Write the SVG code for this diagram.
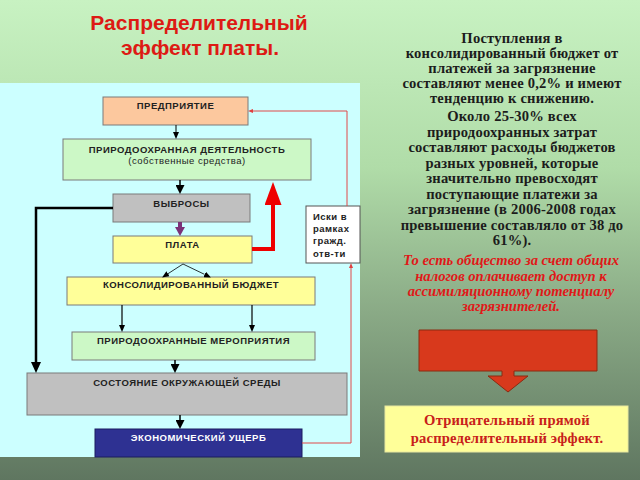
<svg xmlns="http://www.w3.org/2000/svg" width="640" height="480" viewBox="0 0 640 480">
<defs>
<linearGradient id="bg" x1="0" y1="0" x2="0" y2="1">
<stop offset="0" stop-color="#c8f2c2"/>
<stop offset="0.35" stop-color="#b0dca8"/>
<stop offset="0.65" stop-color="#8aaa86"/>
<stop offset="1" stop-color="#5f7660"/>
</linearGradient>
<marker id="a-sm" markerUnits="userSpaceOnUse" viewBox="0 0 7 6" markerWidth="7" markerHeight="6" refX="0" refY="3" orient="auto"><path d="M0,0 L7,3 L0,6 Z" fill="#000"/></marker>
<marker id="a-md" markerUnits="userSpaceOnUse" viewBox="0 0 9 9" markerWidth="9" markerHeight="9" refX="0" refY="4.5" orient="auto"><path d="M0,0 L9,4.5 L0,9 Z" fill="#000"/></marker>
<marker id="a-lg" markerUnits="userSpaceOnUse" viewBox="0 0 11 10" markerWidth="11" markerHeight="10" refX="0" refY="5" orient="auto"><path d="M0,0 L11,5 L0,10 Z" fill="#000"/></marker>
<marker id="a-pu" markerUnits="userSpaceOnUse" viewBox="0 0 9 10" markerWidth="9" markerHeight="10" refX="0" refY="5" orient="auto"><path d="M0,0 L9,5 L0,10 Z" fill="#7b3278"/></marker>
<marker id="a-red" markerUnits="userSpaceOnUse" viewBox="0 0 23 17" markerWidth="23" markerHeight="17" refX="0" refY="8.5" orient="auto"><path d="M0,0 L23,8.5 L0,17 Z" fill="#ee0000"/></marker>
<marker id="a-rs" markerUnits="userSpaceOnUse" viewBox="0 0 5 4" markerWidth="5" markerHeight="4" refX="0" refY="2" orient="auto"><path d="M0,0 L5,2 L0,4 Z" fill="#e04040"/></marker>
</defs>
<style>
.box{stroke:#7a7a7a;stroke-width:1}
.lbl{font-family:"Liberation Sans",Arial,sans-serif;font-weight:bold;font-size:9.5px;letter-spacing:0.5px;fill:#222;text-anchor:middle}
.sub{font-weight:normal}
.ttl{font-family:"Liberation Sans",Arial,sans-serif;font-weight:bold;font-size:21px;fill:#dd1a14;text-anchor:middle}
.rt{font-family:"Liberation Serif","Times New Roman",serif;font-weight:bold;font-size:14.6px;letter-spacing:0.2px;fill:#1c1c1c;text-anchor:middle}
.ri{font-family:"Liberation Serif","Times New Roman",serif;font-weight:bold;font-style:italic;font-size:14.6px;fill:#e01818;text-anchor:middle}
.blk{fill:none;stroke:#000}
.thinred{fill:none;stroke:#e04848;stroke-width:1}
</style>
<rect x="0" y="0" width="640" height="480" fill="url(#bg)"/>
<text class="ttl" x="199" y="30">Распределительный</text>
<text class="ttl" x="200" y="55">эффект платы.</text>
<rect x="0" y="83" width="360" height="374" fill="#ccffff"/>

<g id="n-predpr"><rect class="box" x="103" y="97" width="145" height="28" fill="#fcc89e"/><text class="lbl" x="175.5" y="109">ПРЕДПРИЯТИЕ</text></g>
<g id="n-prirdeyat"><rect class="box" x="63" y="139" width="248" height="41" fill="#ccf8c6"/><text class="lbl" x="187" y="153">ПРИРОДООХРАННАЯ ДЕЯТЕЛЬНОСТЬ</text><text class="lbl sub" x="187" y="164">(собственные средства)</text></g>
<g id="n-vybrosy"><rect class="box" x="113" y="194" width="137" height="28" fill="#c0c0c0"/><text class="lbl" x="181.5" y="207">ВЫБРОСЫ</text></g>
<g id="n-plata"><rect class="box" x="113" y="236" width="139" height="27" fill="#ffff99"/><text class="lbl" x="182.5" y="248">ПЛАТА</text></g>
<g id="n-budget"><rect class="box" x="67" y="277" width="248" height="28" fill="#ffff99"/><text class="lbl" x="191" y="288">КОНСОЛИДИРОВАННЫЙ БЮДЖЕТ</text></g>
<g id="n-merop"><rect class="box" x="72" y="332" width="243" height="28" fill="#ccf8c6"/><text class="lbl" x="193.5" y="344">ПРИРОДООХРАННЫЕ МЕРОПРИЯТИЯ</text></g>
<g id="n-sostoyanie"><rect class="box" x="27" y="373" width="320" height="42" fill="#c0c0c0"/><text class="lbl" x="187" y="386">СОСТОЯНИЕ ОКРУЖАЮЩЕЙ СРЕДЫ</text></g>
<g id="n-ushcherb"><rect x="95" y="429" width="207" height="28" fill="#2e3192" stroke="#1a1c60" stroke-width="1"/><text class="lbl" x="198.5" y="441" style="fill:#fff">ЭКОНОМИЧЕСКИЙ УЩЕРБ</text></g>
<g id="n-iski"><rect x="306" y="206" width="54" height="57" fill="#fff" stroke="#555" stroke-width="1"/>
<text class="lbl" style="text-anchor:start" x="313" y="220">Иски в</text>
<text class="lbl" style="text-anchor:start" x="313" y="232">рамках</text>
<text class="lbl" style="text-anchor:start" x="313" y="244">гражд.</text>
<text class="lbl" style="text-anchor:start" x="313" y="257">отв-ти</text></g>

<g id="connectors">
<line class="blk" x1="176" y1="125" x2="176" y2="132" stroke-width="1" marker-end="url(#a-sm)"/>
<line class="blk" x1="180" y1="180" x2="180" y2="185" stroke-width="1.5" marker-end="url(#a-md)"/>
<line x1="180" y1="222" x2="180" y2="227" stroke="#7b3278" stroke-width="4" marker-end="url(#a-pu)"/>
<line class="blk" x1="183" y1="264" x2="168" y2="273.7" stroke-width="0.8" marker-end="url(#a-sm)"/>
<line class="blk" x1="183" y1="264" x2="204.6" y2="274.4" stroke-width="0.8" marker-end="url(#a-sm)"/>
<line class="blk" x1="122" y1="305" x2="122" y2="325" stroke-width="1.2" marker-end="url(#a-sm)"/>
<line class="blk" x1="252" y1="305" x2="252" y2="325" stroke-width="1.2" marker-end="url(#a-sm)"/>
<line class="blk" x1="175" y1="360" x2="175" y2="364" stroke-width="1.5" marker-end="url(#a-md)"/>
<line class="blk" x1="180" y1="415" x2="180" y2="420" stroke-width="1.5" marker-end="url(#a-md)"/>
<polyline class="blk" points="113,208 36,208 36,362" stroke-width="2.5" marker-end="url(#a-lg)"/>
<polyline points="252,249 273,249 273,205" fill="none" stroke="#ee0000" stroke-width="4" marker-end="url(#a-red)"/>
<polyline class="thinred" points="347,206 347,111 253,111" marker-end="url(#a-rs)"/>
<polyline class="thinred" points="302,443 351,443 351,268" marker-end="url(#a-rs)"/>
</g>

<g id="right-text">
<text class="rt" x="512" y="43">Поступления в</text>
<text class="rt" x="512" y="58">консолидированный бюджет от</text>
<text class="rt" x="512" y="73">платежей за загрязнение</text>
<text class="rt" x="512" y="88">составляют менее 0,2% и имеют</text>
<text class="rt" x="512" y="103">тенденцию к снижению.</text>
<text class="rt" x="512" y="121">Около 25-30% всех</text>
<text class="rt" x="512" y="136.5">природоохранных затрат</text>
<text class="rt" x="512" y="152">составляют расходы бюджетов</text>
<text class="rt" x="512" y="167.5">разных уровней, которые</text>
<text class="rt" x="512" y="183">значительно превосходят</text>
<text class="rt" x="512" y="198.5">поступающие платежи за</text>
<text class="rt" x="512" y="214">загрязнение (в 2006-2008 годах</text>
<text class="rt" x="512" y="229.5">превышение составляло от 38 до</text>
<text class="rt" x="512" y="245">61%).</text>
<text class="ri" x="511" y="265">То есть общество за счет общих</text>
<text class="ri" x="511" y="280.5">налогов оплачивает доступ к</text>
<text class="ri" x="511" y="296">ассимиляционному потенциалу</text>
<text class="ri" x="511" y="311">загрязнителей.</text>
</g>

<g id="n-callout"><path d="M419,330 H597 V371 H514 V376 H528 L508,392 L488,376 H502 V371 H419 Z" fill="#d8391c" stroke="#8a2a10" stroke-width="1"/></g>
<g id="n-effect"><rect x="385" y="406" width="243" height="46" fill="#ffff99" stroke="#e8e8a0" stroke-width="1"/>
<text class="rt" x="507" y="425" style="fill:#c8201a">Отрицательный прямой</text>
<text class="rt" x="507" y="443" style="fill:#c8201a">распределительный эффект.</text></g>
</svg>
